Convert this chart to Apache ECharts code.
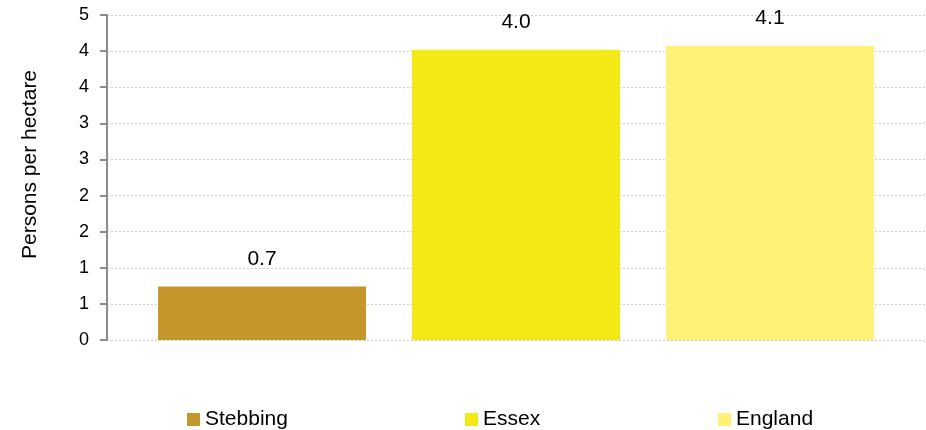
<!DOCTYPE html>
<html>
<head>
<meta charset="utf-8">
<script src="https://cdn.jsdelivr.net/npm/echarts@6/dist/echarts.min.js"></script>
<style>
html,body{margin:0;padding:0;background:#fff;}
#c{width:926px;height:430px;}
</style>
</head>
<body>
<div id="c"></div>
<script>
const categories = [''];
const seriesNames = ['Stebbing', 'Essex', 'England'];
const stebbingValues = [0.74];
const essexValues = [4.02];
const englandValues = [4.07];
const yAxisTitle = 'Persons per hectare';
const colors = ['#C4962C', '#F4E914', '#FFF176'];

const FONT = '"Liberation Sans", Arial, sans-serif';
const chart = echarts.init(document.getElementById('c'));
const seriesData = [stebbingValues, essexValues, englandValues];
const labelCfg = {
  show: true, position: 'top', distance: 17,
  fontFamily: FONT, fontSize: 21, color: '#000',
  formatter: p => p.value.toFixed(1)
};
const legendLefts = [187, 465, 718];
chart.setOption({
  animation: false,
  backgroundColor: '#fff',
  grid: { left: 107, right: 1, top: 15, bottom: 90 },
  legend: seriesNames.map((n, i) => ({
    data: [n], left: legendLefts[i], top: 409, padding: 0,
    icon: 'rect', itemWidth: 13, itemHeight: 13, itemGap: 0,
    textStyle: { fontFamily: FONT, fontSize: 21, color: '#000' }
  })),
  xAxis: {
    type: 'category', data: categories,
    axisLine: { show: false }, axisTick: { show: false }, axisLabel: { show: false }
  },
  yAxis: {
    type: 'value', min: 0, max: 4.5, interval: 0.5,
    name: yAxisTitle, nameLocation: 'middle', nameGap: 66,
    nameTextStyle: { fontFamily: FONT, fontSize: 21, color: '#000', padding: [0, 0, 0, 26] },
    axisLine: { show: true, lineStyle: { color: '#8c8c8c', width: 2 } },
    axisTick: { show: true, length: 7, lineStyle: { color: '#8c8c8c', width: 2 } },
    axisLabel: { margin: 18, fontFamily: FONT, fontSize: 18, color: '#000',
      formatter: v => String(Math.round(v)) },
    splitLine: { show: true, lineStyle: { color: '#d6d0b8', type: [2, 2], width: 1 } }
  },
  series: seriesNames.map((n, i) => ({
    name: n, type: 'bar', data: seriesData[i],
    barWidth: 208, barGap: '22.1%',
    itemStyle: { color: colors[i] },
    label: labelCfg
  }))
});
</script>
</body>
</html>
